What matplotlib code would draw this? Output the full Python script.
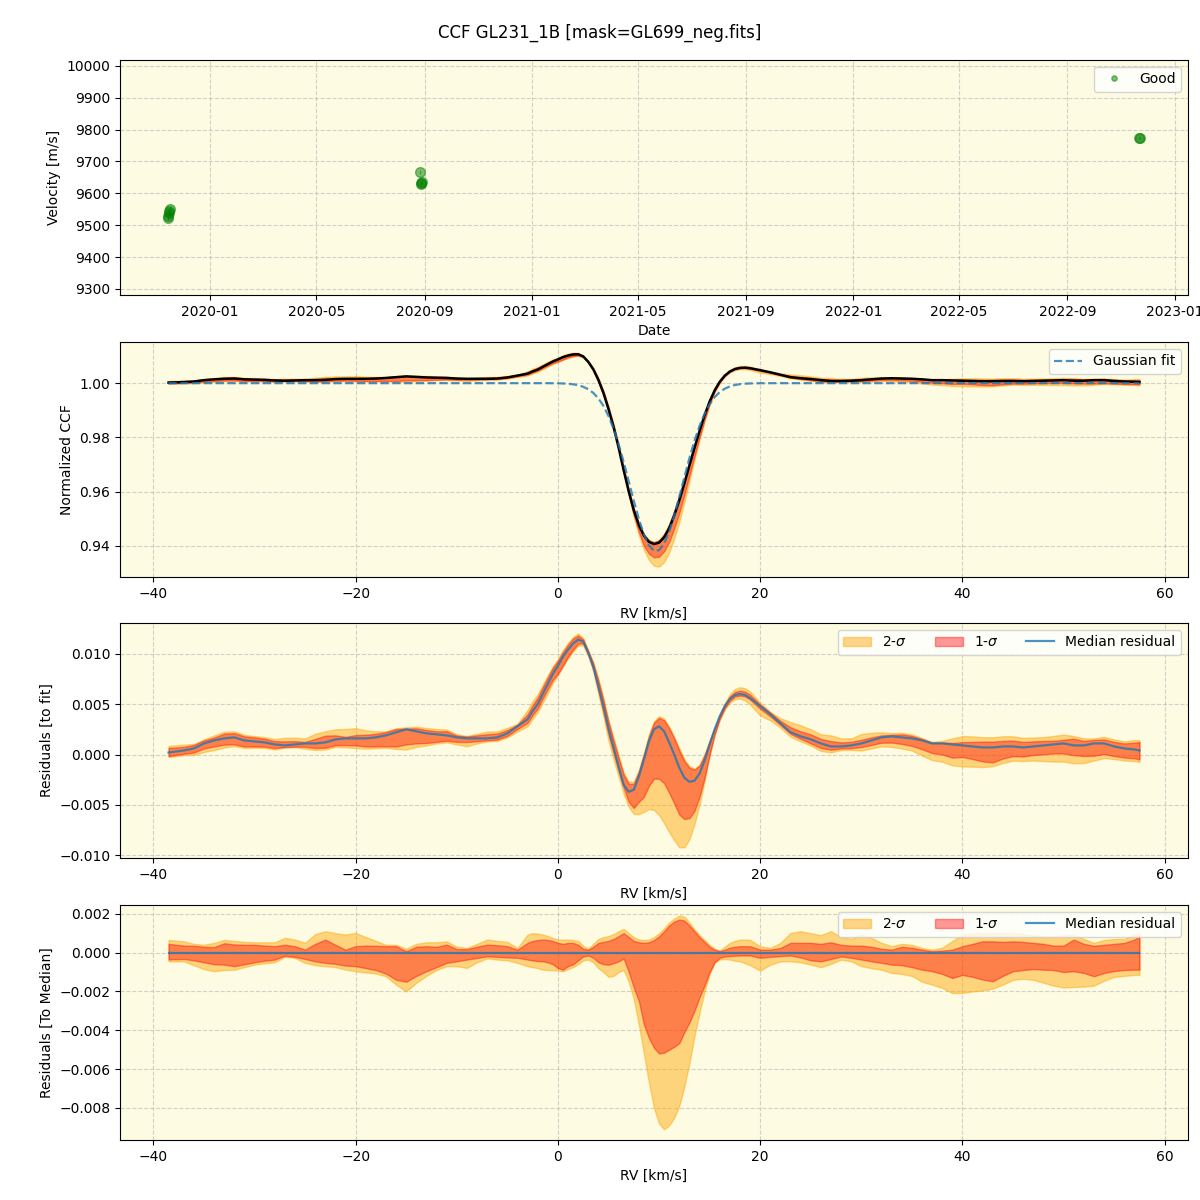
import datetime as dt
import numpy as np
import matplotlib
matplotlib.use("Agg")
import matplotlib.pyplot as plt
import matplotlib.dates as mdates

# ---------------- data ----------------
obs_dates = ["2019-11-14", "2019-11-14", "2019-11-15", "2019-11-15", "2019-11-16",
             "2020-08-27", "2020-08-28", "2020-08-28", "2020-08-29",
             "2022-11-21", "2022-11-22"]
obs_velocity = [9522, 9530, 9537, 9545, 9552,
                9667, 9632, 9630, 9635,
                9773, 9774]
obs_err = [6, 6, 6, 6, 6, 5, 5, 5, 5, 4, 4]

rv = [-38.5, -37, -36, -35, -34, -33, -32, -31, -30, -29, -28, -27, -26, -25, -24,
      -23, -22, -21, -20, -19, -18, -17, -16, -15, -14, -13, -12, -11, -10, -9,
      -8, -7, -6, -5, -4, -3,
      -2.5, -2, -1.5, -1, -0.5, 0, 0.5, 1, 1.5, 2, 2.5, 3, 3.5, 4, 4.5, 5, 5.5,
      6, 6.5, 7, 7.5, 8, 8.5, 9, 9.5, 10, 10.5, 11, 11.5, 12, 12.5, 13, 13.5,
      14, 14.5, 15, 15.5, 16, 16.5, 17, 17.5, 18, 18.5, 19,
      20, 21, 22, 23, 24, 25, 26, 27, 28, 29, 30, 31, 32, 33, 34, 35, 36, 37,
      38, 39, 40, 41, 42, 43, 44, 45, 46, 47, 48, 49, 50, 51, 52, 53, 54, 55,
      56, 57, 57.5]

# median residual to the Gaussian fit (units of 1e-4)
median_res = [2, 4, 6, 11, 14, 16, 17, 14, 13, 12, 10, 9, 10, 11, 11,
              12, 15, 16, 16, 16, 17, 19, 22, 25, 23, 21, 20, 19, 17, 16,
              16, 16, 17, 21, 28, 35,
              43, 50, 60, 70, 80, 88, 97, 104, 110, 114, 112, 101, 87, 68, 48, 26, 7,
              -12, -30, -37, -35, -22, -5, 13, 25, 28, 23, 12, 0, -13, -23, -27, -26,
              -19, -6, 10, 25, 38, 48, 55, 59, 60, 59, 56,
              48, 40, 31, 22, 18, 15, 11, 8, 8, 9, 11, 14, 17, 18, 17, 16, 14, 11,
              11, 10, 9, 8, 7, 7, 8, 8, 7, 8, 9, 10, 11, 9, 9, 11, 11, 8,
              6, 5, 4]

# quantile offsets relative to the median (units of 1e-4)
hi2 = [6.5, 5.8, 4.5, 4.0, 5.0, 6.5, 6.0, 5.5, 5.3, 5.3, 5.3, 7.6, 6.7, 5.0, 9.5,
       11.0, 10.0, 9.3, 10.1, 8.0, 6.0, 4.0, 4.0, 2.0, 4.5, 5.3, 5.3, 5.8, 3.0, 2.4,
       4.5, 6.7, 6.0, 5.5, 2.4, 9.3,
       10.0, 9.8, 9.3, 8.5, 7.5, 6.7, 6.7, 6.7, 6.5, 6.0, 3.5, 2.0, 4.5, 7.0, 8.0, 8.5, 9.5,
       11.0, 12.2, 10.0, 8.0, 6.7, 6.5, 6.7, 8.0, 10.0, 12.5, 15.5, 17.5, 19.1, 18.5, 15.5, 12.0,
       9.0, 6.5, 4.0, 2.0, 1.0, 3.0, 5.0, 6.0, 6.7, 6.7, 6.5,
       3.3, 2.4, 5.0, 10.1, 11.0, 10.0, 9.0, 11.0, 8.0, 7.0, 9.3, 7.6, 5.0, 3.3, 4.5, 4.0, 2.4, 1.5,
       2.5, 6.0, 9.3, 10.0, 10.1, 10.1, 10.1, 10.1, 9.5, 8.8, 8.4, 8.4, 8.8, 9.3, 7.0, 5.0, 6.5, 7.0,
       7.0, 9.3, 10.1]
hi1 = [4.5, 3.6, 3.5, 3.0, 2.8, 4.8, 4.2, 4.0, 4.0, 3.6, 3.3, 4.0, 3.3, 1.5, 4.5,
       6.7, 4.0, 1.5, 3.3, 3.6, 3.5, 3.3, 3.3, 0.7, 3.0, 3.3, 3.0, 4.1, 1.8, 1.8,
       3.0, 4.1, 3.8, 3.3, 1.5, 5.0,
       6.0, 6.5, 6.7, 6.5, 6.0, 5.0, 4.5, 5.0, 5.0, 4.0, 2.0, 1.5, 3.0, 5.0, 5.5, 6.0, 7.0,
       8.5, 10.0, 8.0, 6.0, 5.3, 5.0, 5.3, 6.5, 8.4, 11.0, 14.0, 16.0, 17.0, 16.5, 14.0, 11.0,
       8.0, 5.5, 3.0, 1.5, 0.7, 1.5, 2.5, 3.0, 3.3, 3.3, 3.3,
       1.5, 1.5, 2.4, 5.0, 5.0, 5.0, 4.5, 5.3, 4.0, 3.6, 3.6, 3.0, 2.0, 1.5, 3.0, 2.5, 1.5, 0.7,
       1.0, 1.5, 3.3, 4.5, 5.8, 5.8, 5.5, 5.8, 5.5, 5.0, 4.5, 3.6, 3.6, 6.7, 4.5, 3.5, 4.0, 4.5,
       5.0, 6.7, 8.4]
lo1 = [-3.5, -3.3, -4.0, -5.0, -6.0, -6.2, -7.0, -6.0, -5.0, -4.2, -3.6, -1.6, -2.2, -3.3, -4.5,
       -5.3, -5.8, -6.7, -7.0, -8.0, -9.0, -10.8, -14.0, -15.0, -12.0, -9.6, -7.5, -5.3, -4.5, -3.6,
       -2.8, -1.9, -2.2, -2.5, -2.7, -3.6,
       -4.0, -4.4, -4.5, -5.0, -6.0, -8.0, -8.8, -7.0, -6.0, -4.0, -2.0, -1.5, -2.7, -5.0, -6.0, -6.2, -5.5,
       -4.5, -3.0, -10.0, -18.0, -25.0, -37.0, -44.0, -49.0, -52.0, -51.5, -50.0, -48.5, -46.6, -41.0, -36.0, -30.0,
       -23.0, -17.0, -10.0, -5.0, -2.7, -2.0, -1.8, -1.6, -1.5, -1.5, -1.5,
       -2.7, -2.2, -1.8, -1.5, -2.5, -4.0, -4.5, -3.3, -2.0, -2.7, -3.6, -4.5, -5.3, -6.2, -6.5, -7.5, -8.8, -9.6,
       -11.0, -13.1, -11.5, -12.5, -13.9, -14.8, -12.0, -9.6, -9.0, -8.5, -8.8, -9.0, -10.0, -9.6, -10.5, -12.2, -10.5, -9.5,
       -9.0, -8.8, -8.8]
lo2 = [-4.5, -4.5, -6.5, -8.5, -9.6, -9.0, -8.8, -7.5, -6.2, -5.5, -5.0, -2.2, -2.8, -5.3, -6.5,
       -7.0, -7.5, -8.8, -9.6, -10.2, -10.8, -12.2, -16.5, -20.0, -15.5, -12.0, -9.0, -7.0, -7.0, -7.9,
       -5.0, -3.0, -3.6, -4.0, -5.3, -7.0,
       -7.5, -8.0, -8.8, -9.0, -9.0, -9.3, -9.6, -8.5, -7.5, -6.0, -4.0, -3.6, -5.0, -8.0, -10.0, -12.5, -12.0,
       -10.0, -9.0, -15.0, -24.0, -37.0, -52.0, -67.0, -80.0, -88.0, -91.0, -89.0, -85.0, -79.0, -69.0, -57.0, -43.0,
       -31.0, -20.0, -11.0, -5.0, -3.6, -3.3, -3.6, -4.2, -4.5, -5.5, -6.5,
       -9.3, -6.2, -4.5, -4.5, -5.0, -6.2, -7.5, -5.8, -3.6, -4.5, -7.0, -8.0, -8.8, -10.5, -11.0, -12.0, -15.0, -16.5,
       -18.2, -20.8, -20.8, -20.0, -19.5, -18.5, -16.5, -14.0, -13.5, -14.0, -15.5, -17.0, -18.0, -17.7, -17.5, -17.0, -14.5, -12.5,
       -12.0, -11.5, -11.5]

# Gaussian fit parameters
gauss_amp = 0.062
gauss_center = 9.7
gauss_sigma = 2.6

# ---------------- derived ----------------
rv = np.array(rv, dtype=float)
scale = 1e-4
med = np.array(median_res) * scale
h2 = np.array(hi2) * scale
h1 = np.array(hi1) * scale
l1 = np.array(lo1) * scale
l2 = np.array(lo2) * scale
gfit = 1.0 - gauss_amp * np.exp(-(rv - gauss_center) ** 2 / (2 * gauss_sigma ** 2))
dates = [dt.datetime.strptime(d, "%Y-%m-%d") + dt.timedelta(hours=6) for d in obs_dates]

# ---------------- figure ----------------
bg = "#fdfbe2"
c2 = "orange"
c1 = "red"
a2, a1 = 0.45, 0.4
grid_kw = dict(linestyle="--", color="#b0b0b0", alpha=0.55, linewidth=0.8)

fig = plt.figure(figsize=(12, 12), dpi=100)
fig.suptitle("CCF GL231_1B [mask=GL699_neg.fits]", fontsize=12, y=0.98)

L, W, H = 0.1, 0.89, 0.196
ax1 = fig.add_axes([L, 0.7542, W, H])
ax2 = fig.add_axes([L, 0.519, W, H])
ax3 = fig.add_axes([L, 0.285, W, H])
ax4 = fig.add_axes([L, 0.050, W, H])
for ax in (ax1, ax2, ax3, ax4):
    ax.set_facecolor(bg)
    ax.grid(True, **grid_kw)
    ax.set_axisbelow(True)

# Panel 1: velocities
ax1.errorbar(dates, obs_velocity, yerr=obs_err, fmt="none", ecolor="green",
             alpha=0.5, elinewidth=1)
ax1.plot(dates, obs_velocity, "o", color="green", alpha=0.5, ms=7, label="Good")
ax1.set_ylim(9281, 10019)
ax1.set_xlim(dt.datetime(2019, 9, 21), dt.datetime(2023, 1, 16))
ax1.xaxis.set_major_locator(mdates.MonthLocator(bymonth=[1, 5, 9]))
ax1.xaxis.set_major_formatter(mdates.DateFormatter("%Y-%m"))
ax1.set_ylabel("Velocity [m/s]")
ax1.set_xlabel("Date")
ax1.legend(loc="upper right", markerscale=0.55)

# Panel 2: CCF
ax2.fill_between(rv, gfit + med + l2, gfit + med + h2, color=c2, alpha=a2)
ax2.fill_between(rv, gfit + med + l1, gfit + med + h1, color=c1, alpha=a1)
ax2.plot(rv, gfit + med, color="black", lw=1.8)
ax2.plot(rv, gfit, "--", color="C0", alpha=0.8, lw=1.6, label="Gaussian fit")
ax2.set_ylabel("Normalized CCF")
ax2.set_xlabel("RV [km/s]")
ax2.legend(loc="upper right")

# Panel 3: residuals to fit
ax3.fill_between(rv, med + l2, med + h2, color=c2, alpha=a2, label="2-$\\sigma$")
ax3.fill_between(rv, med + l1, med + h1, color=c1, alpha=a1, label="1-$\\sigma$")
ax3.plot(rv, med, color="C0", alpha=0.8, lw=1.6, label="Median residual")
ax3.set_ylabel("Residuals [to fit]")
ax3.set_xlabel("RV [km/s]")
ax3.legend(loc="upper right", ncol=3)

# Panel 4: residuals to median
ax4.fill_between(rv, l2, h2, color=c2, alpha=a2, label="2-$\\sigma$")
ax4.fill_between(rv, l1, h1, color=c1, alpha=a1, label="1-$\\sigma$")
ax4.plot(rv, med - med, color="C0", alpha=0.8, lw=1.6, label="Median residual")
ax4.set_ylabel("Residuals [To Median]")
ax4.set_xlabel("RV [km/s]")
ax4.legend(loc="upper right", ncol=3)

fig.savefig("out.png", dpi=100)
